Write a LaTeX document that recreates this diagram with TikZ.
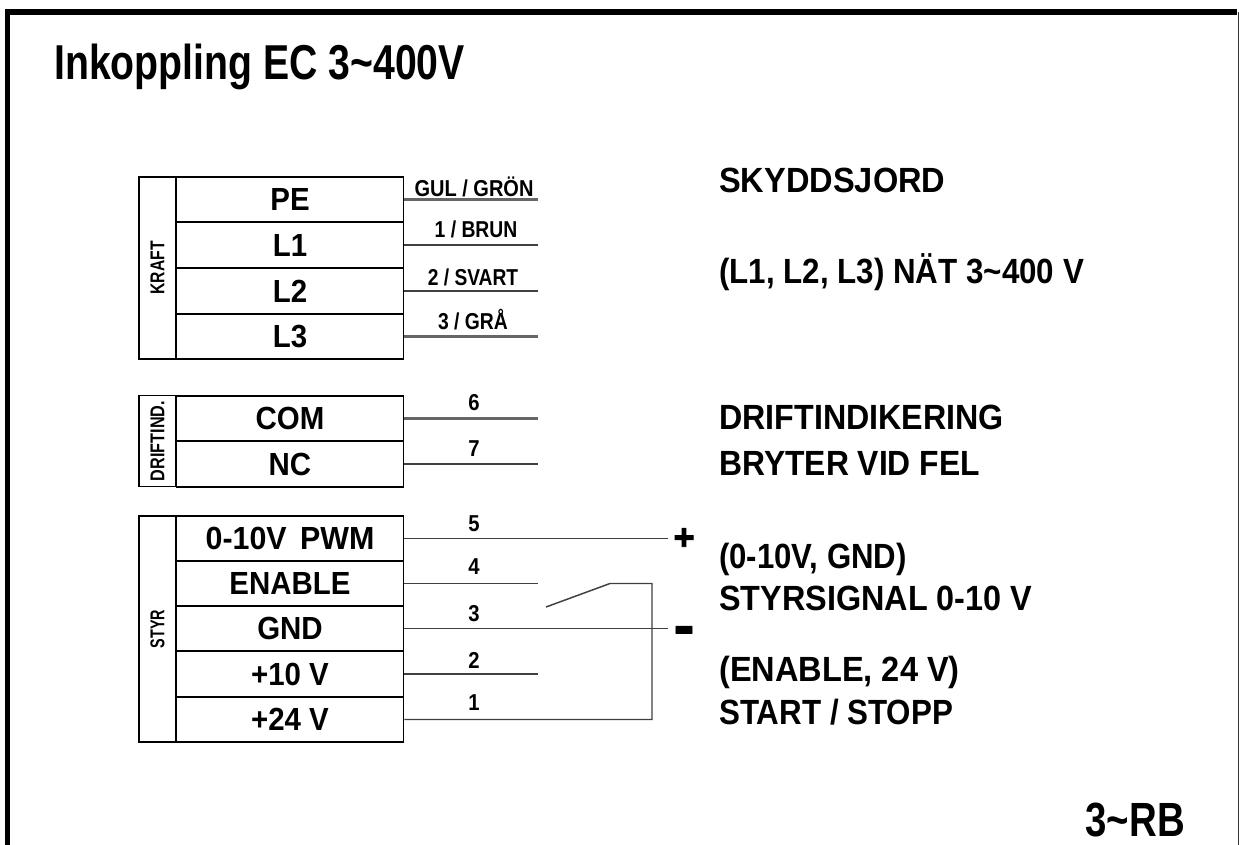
\documentclass[tikz,border=0pt]{standalone}
\usepackage{fontspec}
\setmainfont{Liberation Sans}
\newfontfamily\heavyfont[FakeBold=2.5]{Liberation Sans Bold}
\newlength{\pxu}\setlength{\pxu}{0.75pt}
\newcommand{\nrw}[2]{\scalebox{#1}[1]{#2}}
\tikzset{
 cell/.style={draw=black,line width=1.4pt,minimum width=227\pxu,anchor=center,inner sep=0pt,font=\fontsize{32\pxu}{32\pxu}\selectfont\bfseries},
 side/.style={draw=black,line width=1.1pt,minimum width=37\pxu,inner sep=0pt},
 sidetxt/.style={rotate=90,inner sep=0pt,font=\fontsize{20\pxu}{20\pxu}\selectfont\bfseries},
 wire/.style={line width=1.1pt,draw=black!75},
 thick wire/.style={line width=1.7pt,draw=black!60},
 wlabel/.style={inner sep=0pt,font=\fontsize{23\pxu}{23\pxu}\selectfont\bfseries},
 note/.style={anchor=base west,inner sep=0pt,font=\fontsize{35\pxu}{35\pxu}\selectfont\bfseries},
 sign/.style={inner sep=0pt,font=\fontsize{36\pxu}{36\pxu}\heavyfont}
}
\begin{document}
\begin{tikzpicture}[x=\pxu,y=-\pxu]
\useasboundingbox (0,0) rectangle (1239,845);
\fill[white] (0,0) rectangle (1239,845);
% frame
\draw[line width=3.9pt,black] (7.5,845) -- (7.5,12) -- (1237,12);
\draw[line width=0.7pt,black!80] (1238.5,12) -- (1238.5,845);
% title
\node[anchor=base west,inner sep=0pt,font=\fontsize{49\pxu}{49\pxu}\selectfont\bfseries] (title) at (54,80) {\nrw{0.80}{Inkoppling EC 3\textasciitilde400V}};
\node[anchor=base east,inner sep=0pt,font=\fontsize{48\pxu}{48\pxu}\selectfont\bfseries] (model) at (1185,836) {\nrw{0.80}{3\textasciitilde RB}};
% coordinates for wire ends
\coordinate (endx) at (538,0);
\coordinate (signx) at (668,0);
\coordinate (loopx) at (652,0);
% KRAFT
\node[side,minimum height=182\pxu] (kraft) at (157.5,268) {};
\node[sidetxt] (kraftt) at (kraft.center) {\nrw{0.785}{KRAFT}};
\node[cell,minimum height=45.5\pxu] (pe) at (290,199.5) {\nrw{.92}{PE}};
\node[cell,minimum height=45.5\pxu] (l1) at (290,245) {\nrw{.92}{L1}};
\node[cell,minimum height=45.5\pxu] (l2) at (290,291) {\nrw{.92}{L2}};
\node[cell,minimum height=45.5\pxu] (l3) at (290,336.5) {\nrw{.92}{L3}};
\draw[thick wire] (pe.east) -- (pe.east -| endx);
\draw[wire] (l1.east) -- (l1.east -| endx);
\draw[wire] (l2.east) -- (l2.east -| endx);
\draw[thick wire] (l3.east) -- (l3.east -| endx);
\node[wlabel] (w1) at (474,187) {\nrw{.87}{GUL / GRÖN}};
\node[wlabel] (w2) at (476,229) {\nrw{.84}{1 / BRUN}};
\node[wlabel] (w3) at (473,277) {\nrw{.835}{2 / SVART}};
\node[wlabel] (w4) at (473,320) {\nrw{.84}{3 / GRÅ}};
% DRIFTIND
\node[side,minimum height=91\pxu] (drift) at (157.5,441) {};
\node[sidetxt] (driftt) at (drift.center) {\nrw{0.81}{DRIFTIND.}};
\node[cell,minimum height=45.5\pxu] (com) at (290,418.5) {\nrw{.92}{COM}};
\node[cell,minimum height=45.5\pxu] (nc) at (290,464) {\nrw{.92}{NC}};
\draw[thick wire] (com.east) -- (com.east -| endx);
\draw[wire] (nc.east) -- (nc.east -| endx);
\node[wlabel] (n6) at (474,403) {\nrw{.88}{6}};
\node[wlabel] (n7) at (474,449) {\nrw{.88}{7}};
% STYR
\node[side,minimum height=226\pxu] (styr) at (157.5,629) {};
\node[sidetxt] (styrt) at (styr.center) {\nrw{0.72}{STYR}};
\node[cell,minimum height=45\pxu] (pwm) at (290,538.5) {\nrw{.95}{0-10V\hspace{14\pxu}PWM}\hspace{6\pxu}};
\node[cell,minimum height=45\pxu] (en) at (290,583.5) {\nrw{.92}{ENABLE}};
\node[cell,minimum height=45\pxu] (gnd) at (290,628.5) {\nrw{.92}{GND}};
\node[cell,minimum height=45\pxu] (p10) at (290,674) {\nrw{.92}{+10 V}};
\node[cell,minimum height=45\pxu] (p24) at (290,719.5) {\nrw{.92}{+24 V}};
\draw[wire] (pwm.east) -- (pwm.east -| signx);
\draw[wire] (en.east) -- (en.east -| endx);
\draw[wire] (gnd.east) -- (gnd.east -| signx);
\draw[wire] (p10.east) -- (p10.east -| endx);
\coordinate (swa) at (546,607);
\coordinate (swb) at (610,583.5);
\draw[wire] (swa) -- (swb) -- (swb -| loopx) -- (p24.east -| loopx) -- (p24.east);
\node[wlabel] (n5) at (474,524) {\nrw{.88}{5}};
\node[wlabel] (n4) at (474,567) {\nrw{.88}{4}};
\node[wlabel] (n3) at (474,614) {\nrw{.88}{3}};
\node[wlabel] (n2) at (474,660) {\nrw{.88}{2}};
\node[wlabel] (n1) at (474,703) {\nrw{.88}{1}};
\node[sign] (plus) at (684,539) {+};
\node[sign] (minus) at (684,637) {\scalebox{.9}[1.8]{–}};
% notes
\node[note] (t1) at (719,193) {\nrw{.93}{SKYDDSJORD}};
\node[note] (t2) at (719,283) {\nrw{.895}{(L1, L2, L3) NÄT 3\textasciitilde400 V}};
\node[note] (t3) at (719,429) {\nrw{.92}{DRIFTINDIKERING}};
\node[note] (t4) at (719,475) {\nrw{.91}{BRYTER VID FEL}};
\node[note] (t5) at (719,568) {\nrw{.89}{(0-10V, GND)}};
\node[note] (t6) at (719,610) {\nrw{.925}{STYRSIGNAL 0-10 V}};
\node[note] (t7) at (719,681) {\nrw{.93}{(ENABLE, 24 V)}};
\node[note] (t8) at (719,724) {\nrw{.895}{START / STOPP}};
\end{tikzpicture}
\end{document}
